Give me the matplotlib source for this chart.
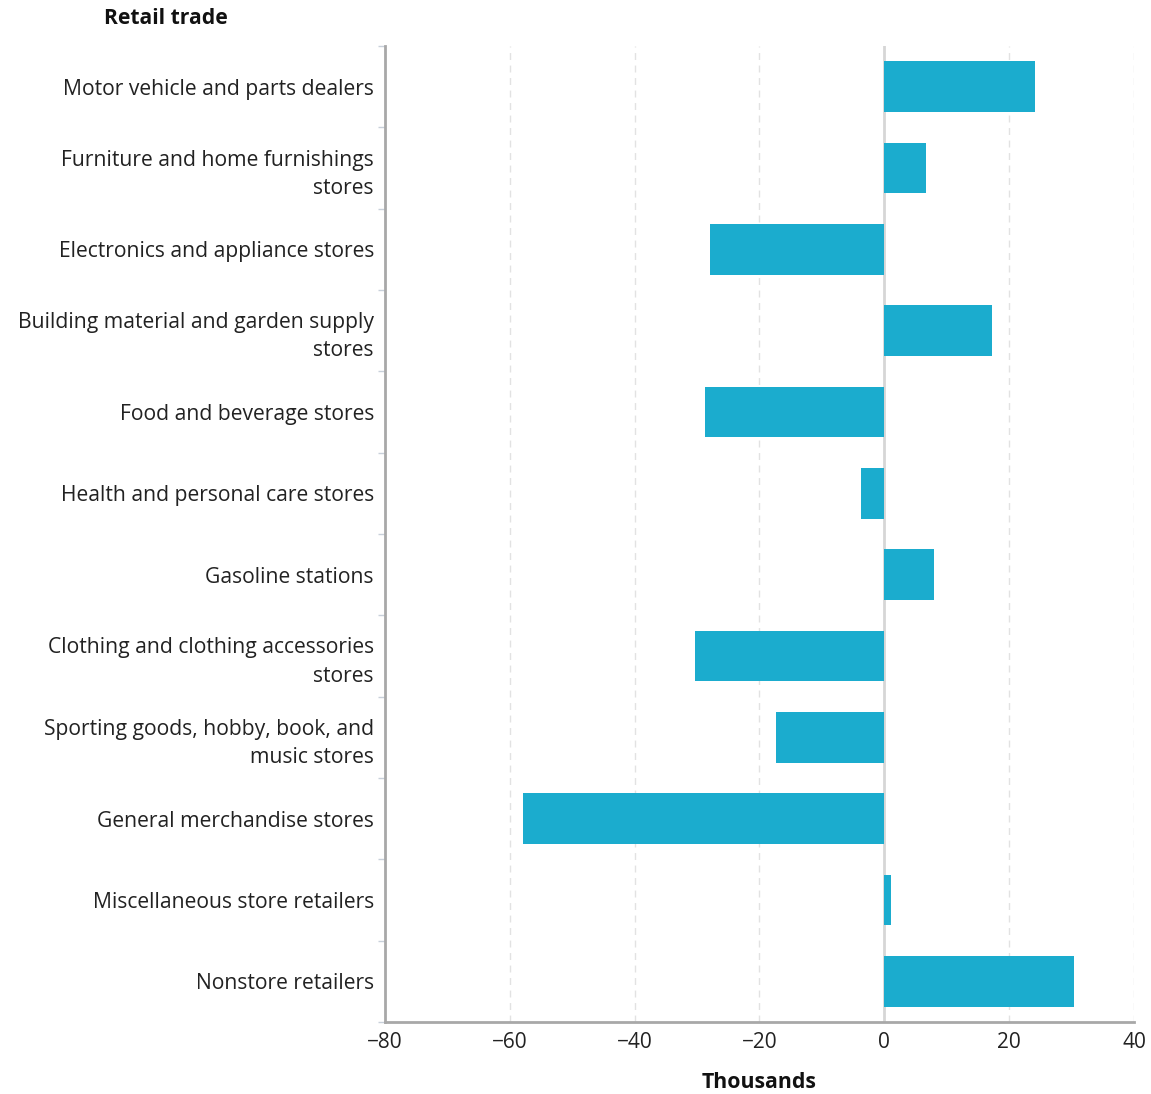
import matplotlib.pyplot as plt
import numpy as np

plt.rcParams['font.family'] = ['Open Sans', 'DejaVu Sans']

categories = [
    "Motor vehicle and parts dealers",
    "Furniture and home furnishings\nstores",
    "Electronics and appliance stores",
    "Building material and garden supply\nstores",
    "Food and beverage stores",
    "Health and personal care stores",
    "Gasoline stations",
    "Clothing and clothing accessories\nstores",
    "Sporting goods, hobby, book, and\nmusic stores",
    "General merchandise stores",
    "Miscellaneous store retailers",
    "Nonstore retailers",
]
values = [24.2, 6.6, -27.9, 17.3, -28.7, -3.7, 8.0, -30.4, -17.3, -57.9, 1.1, 30.4]
xticks = [-80, -60, -40, -20, 0, 20, 40]

fig = plt.figure(figsize=(11.51, 10.94), dpi=100)
ax = fig.add_axes([385 / 1151, 1 - 1022 / 1094, (1134 - 385) / 1151, (1022 - 46) / 1094])

y = np.arange(len(categories))
ax.barh(y, values, height=0.62, color="#1BACCE", zorder=3)
ax.set_ylim(len(categories) - 0.5, -0.5)
ax.set_xlim(-80, 40)

ax.set_yticks(y)
ax.set_yticklabels(categories, fontsize=15.2, color="#222222", linespacing=1.45)
ax.set_yticks(np.arange(len(categories) + 1) - 0.5, minor=True)
ax.tick_params(axis='y', which='major', length=0, pad=8)
ax.tick_params(axis='y', which='minor', length=5, color="#C8D0DA", width=1)

ax.set_xticks(xticks)
ax.set_xticklabels([str(t).replace('-', '\u2212') for t in xticks], fontsize=15, color="#222222")
ax.tick_params(axis='x', length=0, pad=7)

for t in xticks:
    if t == 0:
        ax.axvline(0, color="#D6D6D6", lw=2, zorder=2)
    elif t != -80:
        ax.axvline(t, color="#E2E2E2", lw=1, ls=(0, (5, 4)), zorder=1)

for s in ['top', 'right']:
    ax.spines[s].set_visible(False)
for s in ['left', 'bottom']:
    ax.spines[s].set_color("#A8A8A8")
    ax.spines[s].set_linewidth(2)

ax.set_xlabel("Thousands", fontsize=15.3, fontweight='bold', color="#111111", labelpad=14)
fig.text(166 / 1151, 1 - 18 / 1094, "Retail trade", fontsize=15.2, fontweight='bold',
         color="#111111", ha='center', va='center')

fig.savefig("out.png", dpi=100, facecolor="white")
